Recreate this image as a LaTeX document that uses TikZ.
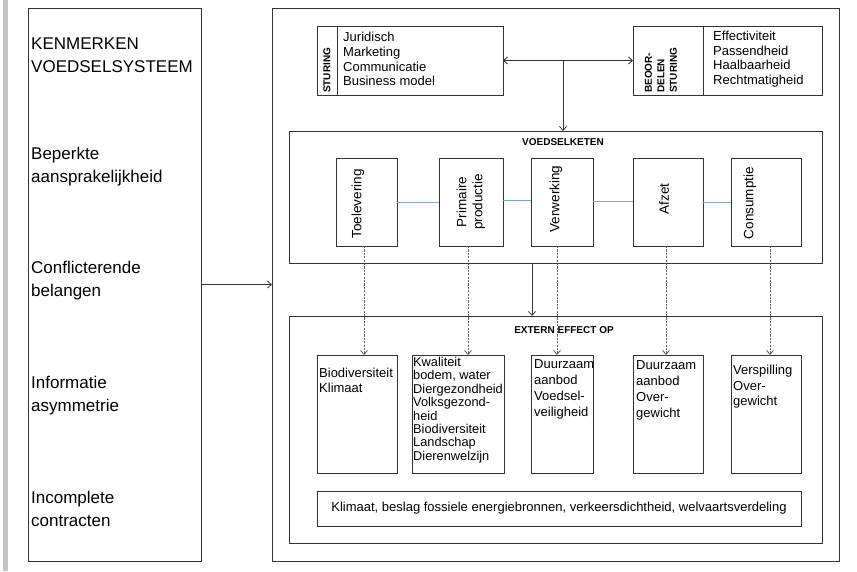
\documentclass[tikz,border=0pt]{standalone}
\usepackage{fontspec}
\setmainfont{Liberation Sans}
\usetikzlibrary{arrows.meta}
\definecolor{chainblue}{HTML}{7FA3D3}
\definecolor{linegray}{HTML}{333333}
\definecolor{dashgray}{HTML}{666666}
\definecolor{bargray}{HTML}{C4C4C4}
\begin{document}
\begin{tikzpicture}[x=1pt,y=-1pt,
  box/.style={draw=linegray, line width=0.8pt, inner sep=0pt, outer sep=0pt, anchor=north west},
  lefttext/.style={font=\fontsize{17}{23}\selectfont, align=left, anchor=west, inner sep=0pt},
  bodytext/.style={font=\fontsize{13}{14.7}\selectfont, align=left, anchor=west, inner sep=0pt},
  efftext/.style={align=left, anchor=north west, inner sep=0pt},
  rottext/.style={font=\fontsize{13.5}{16}\selectfont, align=center, rotate=90, inner sep=0pt},
  titletext/.style={font=\bfseries\fontsize{10}{12.5}\selectfont, inner sep=0pt},
  arr/.style={draw=linegray, line width=0.8pt, -{Straight Barb[length=4pt,width=7pt]}},
  dblarr/.style={draw=linegray, line width=0.8pt, {Straight Barb[length=4pt,width=7pt]}-{Straight Barb[length=4pt,width=7pt]}},
  darr/.style={draw=dashgray, line width=0.9pt, dash pattern=on 2.2pt off 1.2pt, -{Straight Barb[length=4pt,width=7pt]}},
  chainline/.style={draw=chainblue, line width=1pt}
]
\useasboundingbox (0,0) rectangle (857,571);
\fill[bargray] (3,0) rectangle (8,571);

% left box
\node[box, minimum width=173pt, minimum height=553pt] (left) at (28,8) {};
\node[lefttext] (l1) at (31,55) {KENMERKEN\\VOEDSELSYSTEEM};
\node[lefttext] (l2) at (31,166.5) {Beperkte\\aansprakelijkheid};
\node[lefttext] (l3) at (31,281) {Conflicterende\\belangen};
\node[lefttext] (l4) at (31,396) {Informatie\\asymmetrie};
\node[lefttext] (l5) at (31,509) {Incomplete\\contracten};

% outer box
\node[box, minimum width=567pt, minimum height=553pt] (outer) at (272,8) {};
\draw[arr] (left.east) -- (outer.west);

% sturing
\node[box, minimum width=186pt, minimum height=69pt] (stur) at (317,26) {};
\draw[draw=linegray, line width=0.8pt] (337,26) -- (337,95);
\node[titletext, rotate=90, anchor=west] (sturlab) at (327,93) {STURING};
\node[bodytext] (sturtxt) at (343,59) {Juridisch\\Marketing\\Communicatie\\Business model};

% beoordelen
\node[box, minimum width=189pt, minimum height=69pt] (beo) at (633,26) {};
\draw[draw=linegray, line width=0.8pt] (703,26) -- (703,95);
\node[titletext, rotate=90, anchor=west, align=left] (beolab) at (661,93) {BEOOR-\\DELEN\\STURING};
\node[bodytext] (beotxt) at (713,59) {Effectiviteit\\Passendheid\\Haalbaarheid\\Rechtmatigheid};

\draw[dblarr] (stur.east) -- (beo.west);
\coordinate (junc) at (563,60.5);

% voedselketen
\node[box, minimum width=533pt, minimum height=132pt] (keten) at (289,131) {};
\draw[arr] (junc) -- (junc |- keten.north);
\node[titletext] (ketentitle) at (563,142) {VOEDSELKETEN};

\node[box, minimum width=61pt, minimum height=88pt] (toel) at (336,158) {};
\node[box, minimum width=64pt, minimum height=88pt] (prim) at (439,158) {};
\node[box, minimum width=62pt, minimum height=88pt] (verw) at (531,158) {};
\node[box, minimum width=70pt, minimum height=88pt] (afzet) at (633,158) {};
\node[box, minimum width=70pt, minimum height=88pt] (cons) at (731,158) {};

\node[rottext] (toeltxt) at (358,204) {Toelevering};
\node[rottext] (primtxt) at (471,202) {Primaire\\productie};
\node[rottext] (verwtxt) at (556,199) {Verwerking};
\node[rottext] (afzettxt) at (664,199) {Afzet};
\node[rottext] (constxt) at (750,203) {Consumptie};

\draw[chainline] (toel.east) -- (prim.west);
\draw[chainline] ([yshift=2pt]prim.east) -- ([yshift=2pt]verw.west);
\draw[chainline] ([yshift=1pt]verw.east) -- ([yshift=1pt]afzet.west);
\draw[chainline] (afzet.east) -- (cons.west);

% extern effect
\node[box, minimum width=533pt, minimum height=227pt] (extern) at (289,316) {};
\node[titletext] (externtitle) at (564,330) {EXTERN EFFECT OP};
\draw[arr] ([xshift=-23.5pt]keten.south) -- ([xshift=-23.5pt]keten.south |- extern.north);

\node[box, minimum width=80pt, minimum height=118pt] (e1) at (317,355) {};
\node[box, minimum width=92pt, minimum height=118pt] (e2) at (412,355) {};
\node[box, minimum width=62pt, minimum height=118pt] (e3) at (531,355) {};
\node[box, minimum width=70pt, minimum height=118pt] (e4) at (633,355) {};
\node[box, minimum width=70pt, minimum height=118pt] (e5) at (731,355) {};

\node[efftext, font=\fontsize{13}{15}\selectfont] (e1txt) at (319,368) {Biodiversiteit\\Klimaat};
\node[efftext, font=\fontsize{12.8}{13.4}\selectfont] (e2txt) at (413,357) {Kwaliteit\\bodem, water\\Diergezondheid\\Volksgezond-\\heid\\Biodiversiteit\\Landschap\\Dierenwelzijn};
\node[efftext, font=\fontsize{13}{16}\selectfont] (e3txt) at (534,359) {Duurzaam\\aanbod\\Voedsel-\\veiligheid};
\node[efftext, font=\fontsize{13}{16}\selectfont] (e4txt) at (636,360) {Duurzaam\\aanbod\\Over-\\gewicht};
\node[efftext, font=\fontsize{13}{15.5}\selectfont] (e5txt) at (733,365) {Verspilling\\Over-\\gewicht};

\node[box, minimum width=484pt, minimum height=35pt] (bottom) at (317,491) {};
\node[font=\fontsize{13}{15}\selectfont, inner sep=0pt] (bottomtxt) at (bottom.center) {Klimaat, beslag fossiele energiebronnen, verkeersdichtheid, welvaartsverdeling};

% dashed effect arrows
\draw[darr] ([xshift=-2.5pt]toel.south) -- ([xshift=-2.5pt]toel.south |- e1.north);
\draw[darr] ([xshift=-3pt]prim.south) -- ([xshift=-3pt]prim.south |- e2.north);
\draw[darr] ([xshift=-5pt]verw.south) -- ([xshift=-5pt]verw.south |- e3.north);
\draw[darr] ([xshift=-2pt]afzet.south) -- ([xshift=-2pt]afzet.south |- e4.north);
\draw[darr] ([xshift=4pt]cons.south) -- ([xshift=4pt]cons.south |- e5.north);
\end{tikzpicture}
\end{document}
